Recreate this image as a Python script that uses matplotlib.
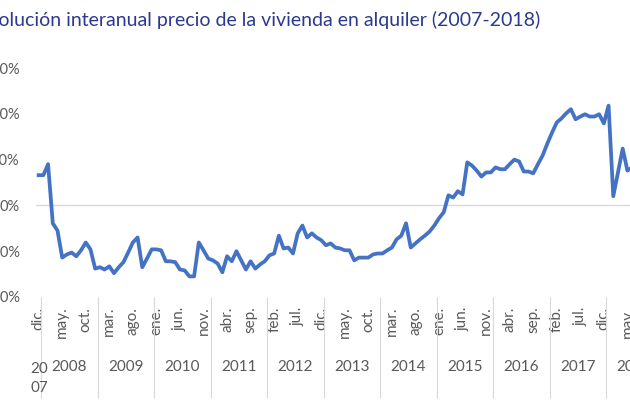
import matplotlib
matplotlib.use("Agg")
from matplotlib import pyplot as plt
from matplotlib import transforms

plt.rcParams['font.family'] = ['Lato', 'DejaVu Sans']

# monthly year-on-year change of rental prices (%), dic. 2007 -> jun. 2018
v2007 = [6.6]
v2008 = [6.6, 9.0, -3.9, -5.5, -11.4, -10.7, -10.3, -11.1, -9.8, -8.1, -9.6, -13.8]
v2009 = [-13.5, -14.0, -13.3, -14.8, -13.5, -12.4, -10.3, -8.1, -7.0, -13.5, -11.6, -9.6]
v2010 = [-9.6, -9.8, -12.2, -12.2, -12.4, -14.0, -14.2, -15.5, -15.5, -8.1, -9.8, -11.6]
v2011 = [-12.0, -12.7, -14.6, -11.1, -12.2, -10.0, -12.0, -14.0, -12.2, -13.8, -12.9, -12.2]
v2012 = [-10.9, -10.5, -6.6, -9.4, -9.2, -10.5, -6.1, -4.4, -7.0, -6.1, -7.0, -7.6]
v2013 = [-8.7, -8.3, -9.2, -9.4, -9.8, -9.8, -12.0, -11.4, -11.4, -11.4, -10.7, -10.5]
v2014 = [-10.5, -9.8, -9.2, -7.4, -6.6, -3.9, -9.2, -8.3, -7.4, -6.6, -5.7, -4.4]
v2015 = [-2.8, -1.5, 2.2, 1.7, 3.1, 2.4, 9.4, 8.7, 7.6, 6.3, 7.2, 7.2]
v2016 = [8.3, 7.9, 7.9, 9.0, 10.0, 9.6, 7.4, 7.4, 7.0, 9.0, 10.9, 13.5]
v2017 = [15.9, 18.1, 19.0, 20.1, 21.0, 18.8, 19.4, 19.9, 19.4, 19.4, 19.9, 17.9]
v2018 = [21.8, 2.0, 7.2, 12.4, 7.6, 8.3]

months = ['ene.', 'feb.', 'mar.', 'abr.', 'may.', 'jun.',
          'jul.', 'ago.', 'sep.', 'oct.', 'nov.', 'dic.']
years = [2007, 2008, 2009, 2010, 2011, 2012, 2013, 2014, 2015, 2016, 2017, 2018]
y_ticks = [-20, -10, 0, 10, 20, 30]

values = v2007 + v2008 + v2009 + v2010 + v2011 + v2012 + v2013 + v2014 + v2015 + v2016 + v2017 + v2018

# category axis: dic. 2007 then full years up to dic. 2018
cats = [('dic.', 2007)] + [(m, y) for y in years[1:] for m in months]

grey = '#595959'
fig = plt.figure(figsize=(6.3, 4.2), dpi=100)
ax = fig.add_axes([36.3 / 630, 1 - 297 / 420, len(cats) * 4.71 / 630, 229 / 420])

ax.plot(range(len(values)), values, color='#4472C4', lw=2.7, solid_joinstyle='round')
ax.axhline(0, color='#D9D9D9', lw=1, zorder=0)

ax.set_xlim(-0.5, len(cats) - 0.5)
ax.set_ylim(y_ticks[0], y_ticks[-1])
for s in ax.spines.values():
    s.set_visible(False)

ax.set_yticks(y_ticks)
ax.set_yticklabels([f"{t}%" for t in y_ticks])
ax.tick_params(axis='y', length=0, pad=12, labelsize=10.5, labelcolor=grey)

tick_pos = list(range(0, len(cats), 5))
ax.set_xticks(tick_pos)
ax.set_xticklabels([cats[i][0] for i in tick_pos], rotation=90, va='top')
ax.tick_params(axis='x', which='major', length=0, pad=7, labelsize=11, labelcolor=grey)

# year separators as long minor ticks
bounds = [i - 0.5 for i in range(1, len(cats)) if cats[i][1] != cats[i - 1][1]]
ax.set_xticks(bounds, minor=True)
ax.tick_params(axis='x', which='minor', length=73, width=0.8, color='#D9D9D9', direction='out')

trans = transforms.blended_transform_factory(ax.transData, ax.transAxes)
for yr in years:
    idx = [i for i, c in enumerate(cats) if c[1] == yr]
    center = (idx[0] + idx[-1]) / 2
    if len(idx) == 1:
        s = str(yr)
        ax.text(center + 0.2, -0.355, s[:2] + '\n' + s[2:], transform=trans, ha='center',
                va='center', fontsize=11, color=grey, linespacing=1.45)
    else:
        ax.text(center, -0.306, str(yr), transform=trans, ha='center', va='center',
                fontsize=11, color=grey)

fig.text(540 / 630, 1 - 20 / 420, 'Evolución interanual precio de la vivienda en alquiler (2007-2018)',
         ha='right', va='center', fontsize=14, color='#2B3990')

fig.savefig('out.png', dpi=100)
